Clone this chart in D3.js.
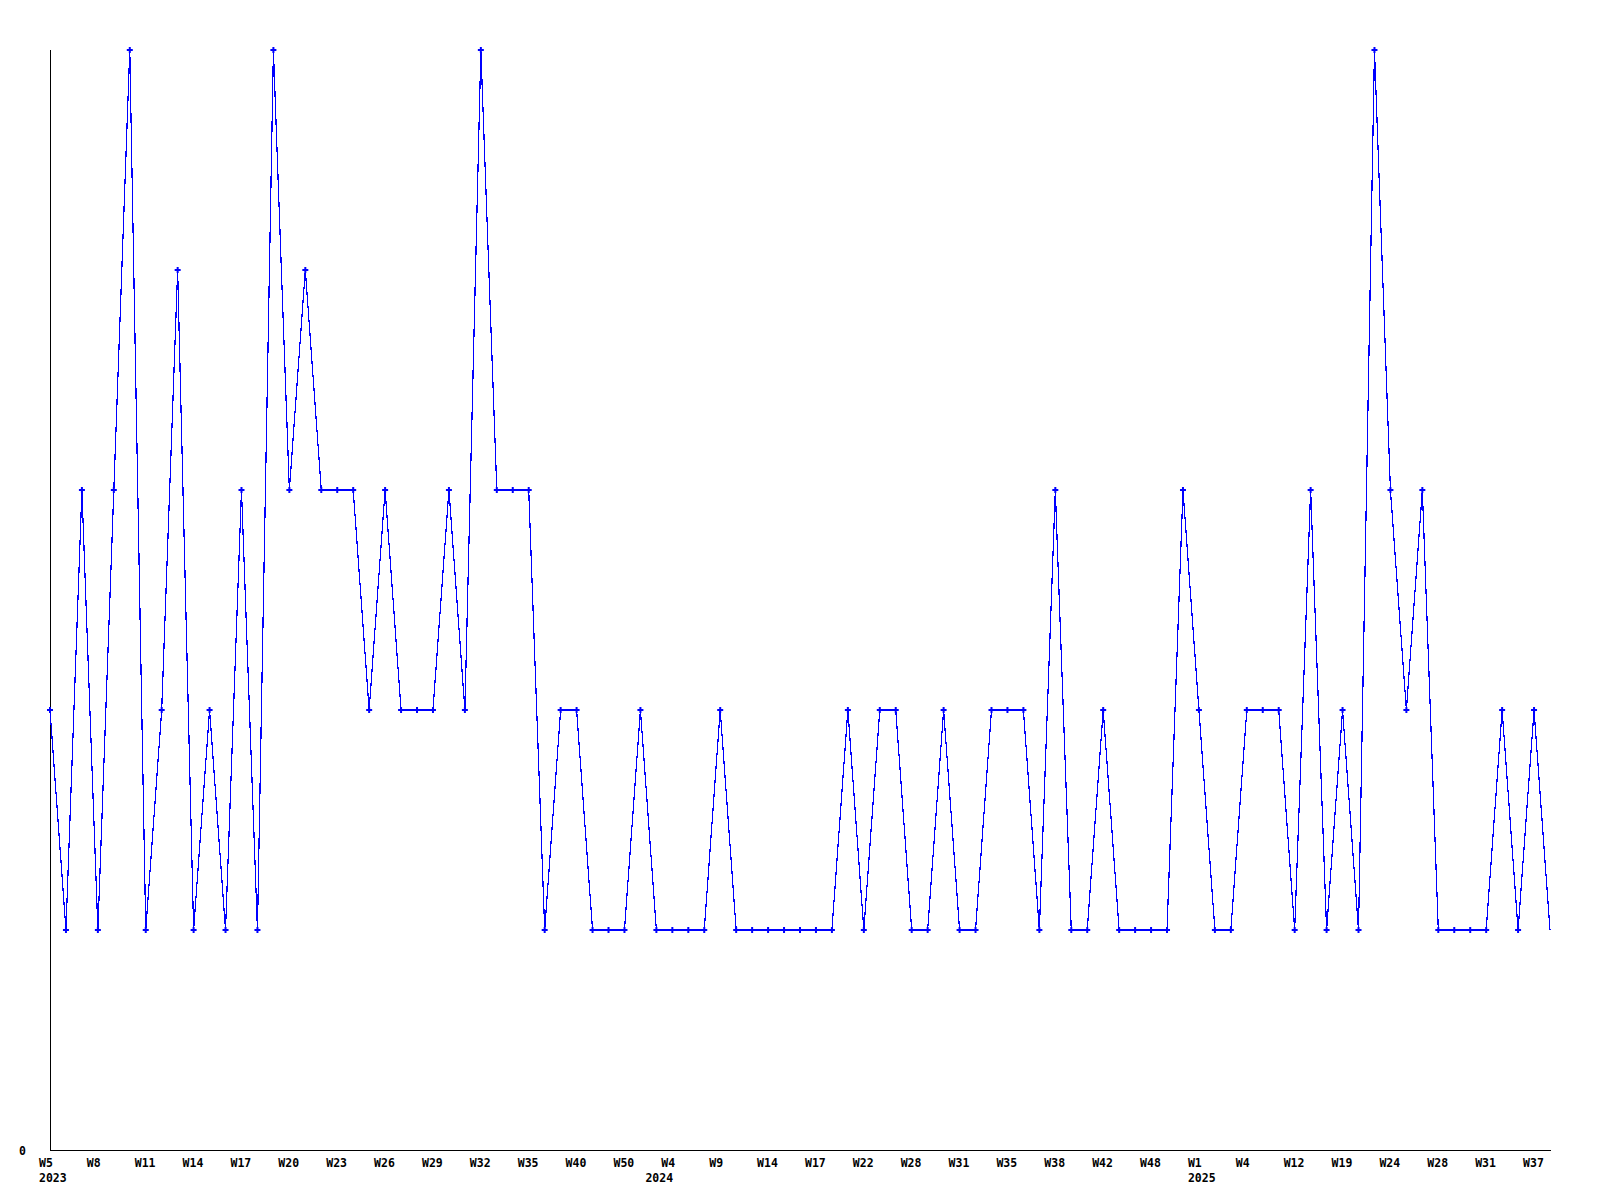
<!DOCTYPE html>
<html>
<head>
<meta charset="utf-8">
<script src="https://cdn.jsdelivr.net/npm/d3@7"></script>
<style>
  html, body { margin: 0; padding: 0; background: #ffffff; }
  svg { display: block; }
  text { font-family: "DejaVu Sans Mono", "Liberation Mono", monospace; font-weight: bold; font-size: 11.5px; fill: #000; }
</style>
</head>
<body>
<svg id="chart" width="1600" height="1200"></svg>
<script>
// ---- data ----
const values = [
  2, 1, 3, 1, 3, 5, 1, 2, 4, 1,
  2, 1, 3, 1, 5, 3, 4, 3, 3, 3,
  2, 3, 2, 2, 2, 3, 2, 5, 3, 3,
  3, 1, 2, 2, 1, 1, 1, 2, 1, 1,
  1, 1, 2, 1, 1, 1, 1, 1, 1, 1,
  2, 1, 2, 2, 1, 1, 2, 1, 1, 2,
  2, 2, 1, 3, 1, 1, 2, 1, 1, 1,
  1, 3, 2, 1, 1, 2, 2, 2, 1, 3,
  1, 2, 1, 5, 3, 2, 3, 1, 1, 1,
  1, 2, 1, 2, 1
];
const tickLabels = ["W5","W8","W11","W14","W17","W20","W23","W26","W29","W32","W35","W40","W50","W4","W9","W14","W17","W22","W28","W31","W35","W38","W42","W48","W1","W4","W12","W19","W24","W28","W31","W37"];
const tickStep = 3;
const yearLabels = ["2023", "2024", "2025"];
const yearStartIndex = [0, 38, 72];
const yTickValues = [0];

// ---- layout ----
const svg = d3.select("#chart");
const x0 = 50, x1 = 1550, yTop = 50, yBottom = 1150;

const x = d3.scaleLinear().domain([0, values.length - 1]).range([x0, x1]);
const y = d3.scaleLinear().domain([0, 5]).range([yBottom, yTop]);

svg.append("defs").append("clipPath").attr("id", "markClip")
  .append("rect").attr("x", x0 - 5).attr("y", yTop - 5).attr("width", x1 - x0 + 2).attr("height", yBottom - yTop + 10);

// axes lines
svg.append("line").attr("x1", x0 + 0.5).attr("x2", x0 + 0.5).attr("y1", yTop).attr("y2", yBottom + 0.5)
  .attr("stroke", "#000").attr("stroke-width", 1).attr("shape-rendering", "crispEdges");
svg.append("line").attr("x1", x0).attr("x2", x1 + 1).attr("y1", yBottom + 0.5).attr("y2", yBottom + 0.5)
  .attr("stroke", "#000").attr("stroke-width", 1).attr("shape-rendering", "crispEdges");

// y tick labels
svg.append("g").selectAll("text").data(yTickValues).join("text")
  .attr("x", 19).attr("y", d => y(d) + 4.5)
  .text(d => d);

// x tick labels
svg.append("g").selectAll("text").data(tickLabels).join("text")
  .attr("x", (d, i) => x(i * tickStep) - 11)
  .attr("y", yBottom + 17)
  .text(d => d);

// year labels
svg.append("g").selectAll("text").data(yearLabels).join("text")
  .attr("x", (d, i) => x(yearStartIndex[i]) - 11)
  .attr("y", yBottom + 32)
  .text(d => d);

// line
const line = d3.line().x((d, i) => x(i)).y(d => y(d));
svg.append("path").datum(values)
  .attr("d", line)
  .attr("fill", "none")
  .attr("stroke", "#0000ff")
  .attr("stroke-width", 1.2)
  .attr("shape-rendering", "crispEdges");

// markers
const cross = d3.symbol().type(d3.symbolCross).size(20);
svg.append("g").attr("clip-path", "url(#markClip)")
  .selectAll("path").data(values).join("path")
  .attr("d", cross)
  .attr("transform", (d, i) => `translate(${x(i)},${y(d)})`)
  .attr("fill", "#0000ff");
</script>
</body>
</html>
